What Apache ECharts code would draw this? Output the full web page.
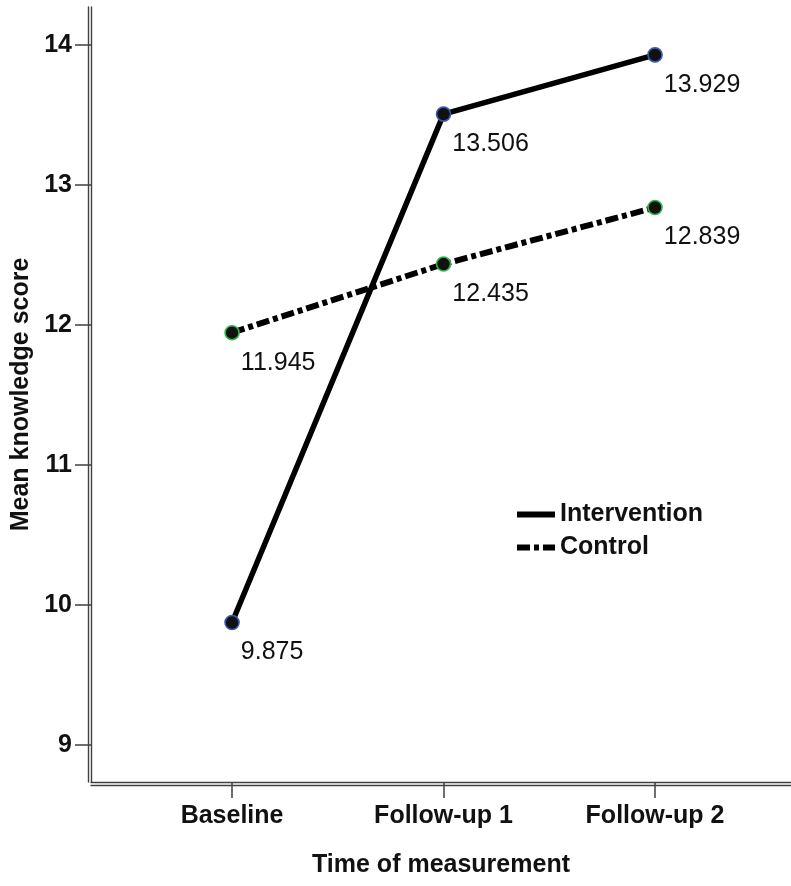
<!DOCTYPE html>
<html>
<head>
<meta charset="utf-8">
<script src="https://cdn.jsdelivr.net/npm/echarts@6/dist/echarts.min.js"></script>
<style>
  html, body { margin: 0; padding: 0; background: #fff; }
  #chart { width: 791px; height: 886px; }
</style>
</head>
<body>
<div id="chart"></div>
<script>
// Mean knowledge score per measurement time, by study group
const timepoints = ['Baseline', 'Follow-up 1', 'Follow-up 2'];
const interventionMeans = [9.875, 13.506, 13.929];
const controlMeans = [11.945, 12.435, 12.839];
const yTicks = [9, 10, 11, 12, 13, 14];
const xTicks = [0, 1, 2];

const FONT = '"Liberation Sans", Arial, Helvetica, sans-serif';
const AXIS_GREY = '#404040';

const Y_MIN = 8.736, Y_MAX = 14.271;
const X_MIN = -0.667, X_MAX = 2.643;

const toPoints = vals => vals.map((v, i) => [i, v]);

const labelStyle = {
  show: true,
  position: 'right',
  distance: 1,
  offset: [0, 30],
  fontSize: 25,
  fontFamily: FONT,
  color: '#111',
  formatter: p => p.value[1].toFixed(3)
};

const axisLineStyle = { show: true, onZero: false, lineStyle: { color: AXIS_GREY, width: 1.4 } };

const chart = echarts.init(document.getElementById('chart'), null, { renderer: 'canvas' });

chart.setOption({
  animation: false,
  backgroundColor: '#fff',
  grid: { left: 91, right: 0, top: 7, bottom: 104 },
  legend: {
    orient: 'vertical',
    left: 514,
    top: 502,
    padding: 0,
    itemWidth: 38,
    itemHeight: 14,
    itemGap: 8,
    itemStyle: { opacity: 0 },
    lineStyle: { width: 6 },
    textStyle: { fontSize: 25, fontWeight: 'bold', fontFamily: FONT, color: '#111' },
    data: ['Intervention', 'Control']
  },
  xAxis: [
    {
      type: 'value',
      position: 'bottom',
      min: X_MIN,
      max: X_MAX,
      splitLine: { show: false },
      axisLine: axisLineStyle,
      axisTick: { show: true, length: 16, customValues: xTicks, lineStyle: { color: AXIS_GREY, width: 1.5 } },
      axisLabel: {
        customValues: xTicks,
        margin: 22,
        fontSize: 25,
        fontWeight: 'bold',
        fontFamily: FONT,
        color: '#111',
        formatter: v => timepoints[v]
      },
      name: 'Time of measurement',
      nameLocation: 'middle',
      nameGap: 71,
      nameTextStyle: { fontSize: 25, fontWeight: 'bold', fontFamily: FONT, color: '#111' }
    },
    {
      type: 'value',
      position: 'bottom',
      offset: 3,
      min: X_MIN,
      max: X_MAX,
      splitLine: { show: false },
      axisLine: axisLineStyle,
      axisTick: { show: false },
      axisLabel: { show: false }
    }
  ],
  yAxis: [
    {
      type: 'value',
      position: 'left',
      min: Y_MIN,
      max: Y_MAX,
      splitLine: { show: false },
      axisLine: axisLineStyle,
      axisTick: { show: true, length: 16, customValues: yTicks, lineStyle: { color: AXIS_GREY, width: 1.5 } },
      axisLabel: {
        customValues: yTicks,
        margin: 19,
        fontSize: 25,
        fontWeight: 'bold',
        fontFamily: FONT,
        color: '#111'
      },
      name: 'Mean knowledge score',
      nameLocation: 'middle',
      nameGap: 56,
      nameTextStyle: { fontSize: 25, fontWeight: 'bold', fontFamily: FONT, color: '#111' }
    },
    {
      type: 'value',
      position: 'left',
      offset: 3,
      min: Y_MIN,
      max: Y_MAX,
      splitLine: { show: false },
      axisLine: axisLineStyle,
      axisTick: { show: false },
      axisLabel: { show: false }
    }
  ],
  series: [
    {
      name: 'Control',
      type: 'line',
      xAxisIndex: 0,
      yAxisIndex: 0,
      data: toPoints(controlMeans),
      symbol: 'circle',
      symbolSize: 14,
      itemStyle: { color: '#111', borderColor: '#2fb84a', borderWidth: 1.6 },
      lineStyle: { color: '#000', width: 6, type: [13, 4, 5, 4] },
      label: labelStyle,
      z: 2
    },
    {
      name: 'Intervention',
      type: 'line',
      xAxisIndex: 0,
      yAxisIndex: 0,
      data: toPoints(interventionMeans),
      symbol: 'circle',
      symbolSize: 14,
      itemStyle: { color: '#111', borderColor: '#3a58b0', borderWidth: 1.6 },
      lineStyle: { color: '#000', width: 5.5, type: 'solid' },
      label: labelStyle,
      z: 3
    }
  ]
});
</script>
</body>
</html>
